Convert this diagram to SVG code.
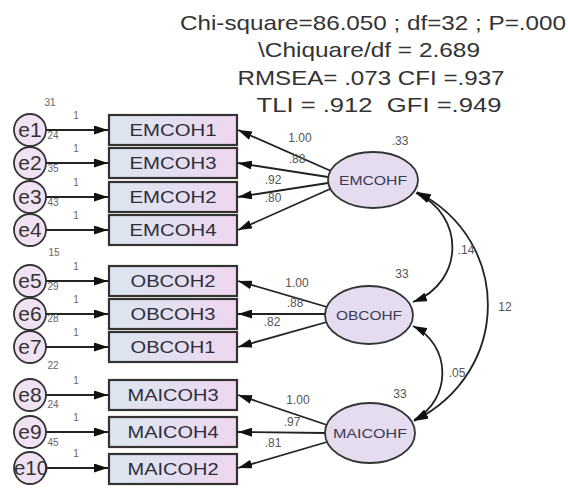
<svg xmlns="http://www.w3.org/2000/svg" width="568" height="488" viewBox="0 0 568 488">
<defs>
<linearGradient id="boxg" x1="0" y1="0" x2="1" y2="0">
<stop offset="0" stop-color="#dbe5ef"/>
<stop offset="0.5" stop-color="#e4dff0"/>
<stop offset="1" stop-color="#efd6ef"/>
</linearGradient>
<marker id="ah" viewBox="0 0 14 9" refX="14" refY="4.5" markerWidth="14" markerHeight="9" markerUnits="userSpaceOnUse" orient="auto-start-reverse">
<path d="M0,0 L14,4.5 L0,9 z" fill="#111"/>
</marker>
</defs>
<style>
.hdr{font-family:"Liberation Sans",Arial,sans-serif;font-size:21px;fill:#333;text-anchor:middle}
.box rect{fill:url(#boxg);stroke:#333;stroke-width:2.2}
.box text{font-family:"Liberation Sans",Arial,sans-serif;font-size:17px;fill:#2e2e3a;text-anchor:middle}
.err ellipse{fill:#f0e2f3;stroke:#333;stroke-width:1.8}
.err text{font-family:"Liberation Sans",Arial,sans-serif;font-size:21px;fill:#333;text-anchor:middle}
.fac ellipse{fill:#e6dcf0;stroke:#333;stroke-width:1.8}
.fac text{font-family:"Liberation Sans",Arial,sans-serif;font-size:13px;fill:#3a3a55;text-anchor:middle}
.lbl{font-family:"Liberation Sans",Arial,sans-serif;font-size:12px;fill:#555;text-anchor:middle}
.sm{font-family:"Liberation Sans",Arial,sans-serif;font-size:10px;fill:#666;text-anchor:middle}
.con line,.con path{stroke:#222;stroke-width:1.8;fill:none}
.ar{marker-end:url(#ah)}
.dbl{marker-start:url(#ah);marker-end:url(#ah)}
</style>
<rect width="568" height="488" fill="#fff"/>
<g id="fit">
<text class="hdr" x="373" y="30" textLength="386" lengthAdjust="spacingAndGlyphs">Chi-square=86.050 ; df=32 ; P=.000</text>
<text class="hdr" x="369" y="57" textLength="222" lengthAdjust="spacingAndGlyphs">\Chiquare/df = 2.689</text>
<text class="hdr" x="371" y="85" textLength="267" lengthAdjust="spacingAndGlyphs">RMSEA= .073 CFI =.937</text>
<text class="hdr" x="379" y="112" textLength="245" lengthAdjust="spacingAndGlyphs" xml:space="preserve">TLI = .912  GFI =.949</text>
</g>
<g id="connectors" class="con">
<line class="ar" x1="46" y1="130" x2="108" y2="130"/>
<line class="ar" x1="46" y1="163" x2="108" y2="163"/>
<line class="ar" x1="46" y1="197" x2="108" y2="197"/>
<line class="ar" x1="46" y1="230" x2="108" y2="230"/>
<line class="ar" x1="46" y1="281" x2="108" y2="281"/>
<line class="ar" x1="46" y1="314" x2="108" y2="314"/>
<line class="ar" x1="46" y1="347" x2="108" y2="347"/>
<line class="ar" x1="46" y1="395" x2="108" y2="395"/>
<line class="ar" x1="46" y1="432" x2="108" y2="432"/>
<line class="ar" x1="46" y1="468" x2="108" y2="468"/>
<line class="ar" x1="331" y1="171" x2="238" y2="130"/>
<line class="ar" x1="328" y1="177" x2="238" y2="163"/>
<line class="ar" x1="328" y1="183" x2="238" y2="197"/>
<line class="ar" x1="330" y1="189" x2="238" y2="230"/>
<line class="ar" x1="327" y1="307" x2="238" y2="281"/>
<line class="ar" x1="325" y1="314" x2="238" y2="314"/>
<line class="ar" x1="327" y1="322" x2="238" y2="347"/>
<line class="ar" x1="327" y1="425" x2="238" y2="395"/>
<line class="ar" x1="325" y1="433" x2="238" y2="432"/>
<line class="ar" x1="327" y1="442" x2="238" y2="468"/>
<path class="dbl" d="M416,193 C465,215 465,282 413,302"/>
<path class="dbl" d="M413,326 C452,345 452,400 414,420"/>
<path class="dbl" d="M417,192 C512,240 512,372 414,421"/>
</g>
<g id="labels">
<text class="sm" x="76" y="119">1</text>
<text class="sm" x="76" y="152">1</text>
<text class="sm" x="76" y="186">1</text>
<text class="sm" x="76" y="219">1</text>
<text class="sm" x="76" y="270">1</text>
<text class="sm" x="76" y="303">1</text>
<text class="sm" x="76" y="336">1</text>
<text class="sm" x="76" y="384">1</text>
<text class="sm" x="76" y="421">1</text>
<text class="sm" x="76" y="457">1</text>
<text class="sm" x="50" y="106">31</text>
<text class="sm" x="53" y="139">24</text>
<text class="sm" x="53" y="172">35</text>
<text class="sm" x="53" y="206">43</text>
<text class="sm" x="54" y="256">15</text>
<text class="sm" x="53" y="290">29</text>
<text class="sm" x="53" y="322">28</text>
<text class="sm" x="53" y="369">22</text>
<text class="sm" x="53" y="408">24</text>
<text class="sm" x="53" y="446">45</text>
<text class="lbl" x="300" y="142">1.00</text>
<text class="lbl" x="297" y="163">.88</text>
<text class="lbl" x="273" y="184">.92</text>
<text class="lbl" x="273" y="202">.80</text>
<text class="lbl" x="297" y="287">1.00</text>
<text class="lbl" x="295" y="307">.88</text>
<text class="lbl" x="272" y="326">.82</text>
<text class="lbl" x="298" y="404">1.00</text>
<text class="lbl" x="292" y="426">.97</text>
<text class="lbl" x="273" y="447">.81</text>
<text class="lbl" x="400" y="145">.33</text>
<text class="lbl" x="402" y="278">33</text>
<text class="lbl" x="400" y="398">33</text>
<text class="lbl" x="466" y="254">.14</text>
<text class="lbl" x="457" y="377">.05</text>
<text class="lbl" x="505" y="311">12</text>
</g>
<g id="e1" class="err"><ellipse cx="30" cy="130" rx="16" ry="16"/><text x="30" y="137">e1</text></g>
<g id="e2" class="err"><ellipse cx="30" cy="163" rx="16" ry="16"/><text x="30" y="170">e2</text></g>
<g id="e3" class="err"><ellipse cx="30" cy="197" rx="16" ry="16"/><text x="30" y="204">e3</text></g>
<g id="e4" class="err"><ellipse cx="30" cy="230" rx="16" ry="16"/><text x="30" y="237">e4</text></g>
<g id="e5" class="err"><ellipse cx="30" cy="281" rx="16" ry="16"/><text x="30" y="288">e5</text></g>
<g id="e6" class="err"><ellipse cx="30" cy="314" rx="16" ry="16"/><text x="30" y="321">e6</text></g>
<g id="e7" class="err"><ellipse cx="30" cy="347" rx="16" ry="16"/><text x="30" y="354">e7</text></g>
<g id="e8" class="err"><ellipse cx="30" cy="395" rx="16" ry="16"/><text x="30" y="402">e8</text></g>
<g id="e9" class="err"><ellipse cx="30" cy="432" rx="16" ry="16"/><text x="30" y="439">e9</text></g>
<g id="e10" class="err"><ellipse cx="30" cy="468" rx="16" ry="16"/><text x="31" y="475" textLength="34" lengthAdjust="spacingAndGlyphs">e10</text></g>
<g id="EMCOH1" class="box"><rect x="109" y="115" width="128" height="30"/><text x="173" y="136" textLength="87" lengthAdjust="spacingAndGlyphs">EMCOH1</text></g>
<g id="EMCOH3" class="box"><rect x="109" y="148" width="128" height="30"/><text x="173" y="169" textLength="87" lengthAdjust="spacingAndGlyphs">EMCOH3</text></g>
<g id="EMCOH2" class="box"><rect x="109" y="182" width="128" height="30"/><text x="173" y="203" textLength="87" lengthAdjust="spacingAndGlyphs">EMCOH2</text></g>
<g id="EMCOH4" class="box"><rect x="109" y="215" width="128" height="30"/><text x="173" y="236" textLength="87" lengthAdjust="spacingAndGlyphs">EMCOH4</text></g>
<g id="OBCOH2" class="box"><rect x="109" y="266" width="128" height="30"/><text x="173" y="287" textLength="85" lengthAdjust="spacingAndGlyphs">OBCOH2</text></g>
<g id="OBCOH3" class="box"><rect x="109" y="299" width="128" height="30"/><text x="173" y="320" textLength="85" lengthAdjust="spacingAndGlyphs">OBCOH3</text></g>
<g id="OBCOH1" class="box"><rect x="109" y="332" width="128" height="30"/><text x="173" y="353" textLength="85" lengthAdjust="spacingAndGlyphs">OBCOH1</text></g>
<g id="MAICOH3" class="box"><rect x="109" y="380" width="128" height="30"/><text x="173" y="401" textLength="91" lengthAdjust="spacingAndGlyphs">MAICOH3</text></g>
<g id="MAICOH4" class="box"><rect x="109" y="417" width="128" height="30"/><text x="173" y="438" textLength="91" lengthAdjust="spacingAndGlyphs">MAICOH4</text></g>
<g id="MAICOH2" class="box"><rect x="109" y="454" width="128" height="30"/><text x="173" y="475" textLength="91" lengthAdjust="spacingAndGlyphs">MAICOH2</text></g>
<g id="EMCOHF" class="fac"><ellipse cx="373" cy="180" rx="45" ry="28"/><text x="373" y="185" textLength="68" lengthAdjust="spacingAndGlyphs">EMCOHF</text></g>
<g id="OBCOHF" class="fac"><ellipse cx="369" cy="315" rx="44" ry="29"/><text x="369" y="320" textLength="66" lengthAdjust="spacingAndGlyphs">OBCOHF</text></g>
<g id="MAICOHF" class="fac"><ellipse cx="370" cy="433" rx="45" ry="30"/><text x="370" y="438" textLength="74" lengthAdjust="spacingAndGlyphs">MAICOHF</text></g>
</svg>
